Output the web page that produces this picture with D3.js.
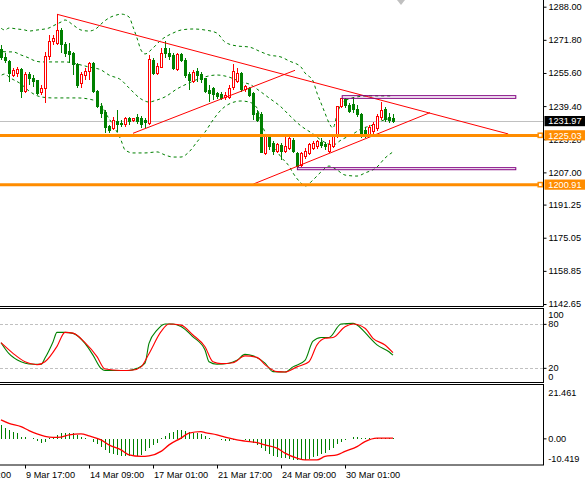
<!DOCTYPE html>
<html>
<head>
<meta charset="utf-8">
<script src="https://cdn.jsdelivr.net/npm/d3@7"></script>
<style>
  html, body { margin: 0; padding: 0; background: #fff; }
  svg { display: block; font-family: "Liberation Sans", Arial, sans-serif; }
</style>
</head>
<body>
<svg id="chart" width="585" height="483"></svg>
<script>
// H4 candles, one per bar: [open, high, low, close]
const candles = [
  [1267.3, 1269.3, 1261.9, 1263.4], [1263.4, 1265.4, 1260.5, 1261.9], [1261.1, 1261.9, 1251.3, 1255.4],
  [1254.6, 1258.0, 1253.6, 1256.6], [1255.4, 1258.7, 1253.8, 1257.1], [1257.1, 1258.0, 1243.4, 1246.4],
  [1246.4, 1256.1, 1245.8, 1254.9], [1254.9, 1256.2, 1249.7, 1252.7], [1253.0, 1254.6, 1248.9, 1251.3],
  [1251.7, 1252.2, 1244.8, 1245.7], [1245.9, 1249.7, 1244.8, 1248.1], [1248.1, 1265.9, 1240.9, 1263.6],
  [1263.6, 1274.2, 1261.9, 1270.9], [1270.9, 1274.2, 1269.3, 1272.6], [1270.1, 1284.3, 1269.3, 1276.6],
  [1276.6, 1277.6, 1265.4, 1269.3], [1269.3, 1270.9, 1263.6, 1265.2], [1266.0, 1270.3, 1260.5, 1264.4],
  [1265.2, 1266.0, 1254.6, 1259.5], [1259.5, 1260.5, 1248.1, 1249.7], [1250.6, 1256.2, 1248.1, 1254.9],
  [1254.6, 1257.9, 1252.2, 1256.2], [1256.2, 1261.1, 1252.2, 1260.3], [1260.3, 1261.1, 1245.7, 1246.4],
  [1246.4, 1247.3, 1238.3, 1239.1], [1239.1, 1240.9, 1233.6, 1235.9], [1236.2, 1237.5, 1226.2, 1229.0],
  [1229.3, 1230.2, 1226.2, 1227.7], [1228.5, 1234.2, 1227.7, 1232.6], [1232.1, 1237.5, 1226.9, 1230.2],
  [1231.0, 1232.6, 1229.2, 1230.2], [1230.2, 1234.2, 1229.3, 1233.4], [1233.4, 1234.2, 1230.2, 1232.1],
  [1232.6, 1233.6, 1231.6, 1233.1], [1233.7, 1235.5, 1230.7, 1232.1], [1233.1, 1234.6, 1228.7, 1230.5],
  [1232.6, 1233.6, 1228.7, 1231.5], [1231.0, 1264.4, 1230.2, 1262.4], [1261.9, 1262.9, 1254.6, 1255.4],
  [1255.4, 1260.5, 1254.6, 1258.7], [1258.2, 1267.8, 1258.0, 1265.2], [1267.7, 1271.2, 1262.9, 1265.2],
  [1265.2, 1267.8, 1261.9, 1263.6], [1264.0, 1265.2, 1257.1, 1257.9], [1257.1, 1265.4, 1256.6, 1264.7],
  [1264.7, 1265.4, 1261.1, 1261.9], [1261.9, 1262.9, 1253.1, 1254.6], [1254.9, 1256.2, 1247.3, 1251.7],
  [1251.3, 1257.1, 1250.6, 1255.9], [1256.2, 1258.0, 1251.3, 1254.6], [1254.9, 1255.9, 1250.6, 1252.2],
  [1252.7, 1253.0, 1245.7, 1246.4], [1246.8, 1249.7, 1241.6, 1245.7], [1247.8, 1248.9, 1242.4, 1245.2],
  [1245.7, 1246.4, 1242.9, 1244.0], [1245.2, 1246.4, 1242.4, 1243.2], [1243.5, 1246.4, 1242.4, 1244.8],
  [1243.5, 1249.7, 1242.9, 1248.1], [1248.3, 1260.0, 1247.3, 1256.1], [1251.3, 1258.0, 1250.6, 1255.4],
  [1255.4, 1256.2, 1246.4, 1247.3], [1247.3, 1249.7, 1246.3, 1248.9], [1248.1, 1248.9, 1243.9, 1244.8],
  [1245.7, 1246.4, 1232.6, 1235.1], [1236.0, 1237.5, 1231.6, 1232.6], [1235.1, 1236.5, 1216.5, 1216.9],
  [1216.3, 1225.3, 1215.5, 1224.4], [1224.8, 1225.3, 1217.9, 1219.6], [1221.2, 1222.3, 1215.5, 1217.1],
  [1217.1, 1221.2, 1216.3, 1220.4], [1220.0, 1221.4, 1213.1, 1217.1], [1217.1, 1224.4, 1216.5, 1219.6],
  [1218.8, 1224.4, 1217.9, 1223.7], [1222.8, 1223.7, 1216.3, 1217.1], [1216.3, 1217.1, 1209.1, 1209.8],
  [1210.3, 1217.1, 1209.6, 1216.3], [1214.7, 1218.8, 1213.5, 1217.1], [1216.3, 1221.2, 1215.5, 1220.4],
  [1218.8, 1222.3, 1217.9, 1221.2], [1219.6, 1222.8, 1218.4, 1222.0], [1221.7, 1223.7, 1218.8, 1220.0],
  [1220.7, 1222.0, 1217.9, 1219.6], [1217.1, 1222.8, 1216.3, 1220.7], [1219.6, 1225.3, 1218.8, 1224.4],
  [1224.4, 1239.6, 1223.7, 1239.1], [1239.1, 1243.5, 1238.3, 1242.9], [1242.4, 1243.2, 1238.3, 1239.9],
  [1239.6, 1240.8, 1235.9, 1237.0], [1240.4, 1244.0, 1236.0, 1237.5], [1237.5, 1239.9, 1234.1, 1235.5],
  [1235.1, 1235.9, 1223.8, 1226.2], [1227.7, 1229.2, 1223.8, 1224.8], [1225.3, 1230.2, 1224.3, 1228.7],
  [1227.2, 1231.6, 1225.8, 1230.2], [1228.5, 1235.5, 1227.2, 1234.1], [1233.6, 1241.4, 1232.6, 1237.2],
  [1237.5, 1239.0, 1231.6, 1232.9], [1233.6, 1236.0, 1231.1, 1232.4], [1233.1, 1235.5, 1231.1, 1231.97]
];

// Bollinger bands: [bar, price]
const bbUpper = [
  [-1, 1279.5], [1, 1276.6], [2, 1277.6], [4, 1277.1], [6, 1276.6], [7, 1276.1], [9, 1276.6], [12, 1277.6],
  [13, 1278.6], [15, 1280.5], [16, 1281.5], [18, 1279.1], [20, 1276.6], [22, 1276.1], [24, 1277.6], [25, 1279.5],
  [27, 1282.5], [29, 1284.0], [30, 1284.4], [32, 1283.0], [33, 1278.1], [34, 1272.7], [35, 1266.8], [36, 1264.9],
  [38, 1267.8], [40, 1271.7], [43, 1275.1], [45, 1276.6], [48, 1277.1], [51, 1276.6], [54, 1275.1], [56, 1270.7],
  [59, 1268.8], [62, 1268.3], [65, 1265.9], [67, 1264.4], [70, 1263.4], [72, 1261.5], [75, 1258.5], [76, 1255.6],
  [78, 1251.7], [79, 1245.8], [80, 1240.9], [81, 1236.0], [82, 1231.2], [83, 1228.7], [84, 1235.1], [85, 1240.4],
  [87, 1242.9], [89, 1243.9], [92, 1244.4], [98, 1244.4]
];
const bbMiddle = [
  [-1, 1266.3], [2, 1265.9], [3, 1265.9], [5, 1264.4], [7, 1262.9], [8, 1261.9], [10, 1261.0], [13, 1261.0],
  [16, 1261.0], [20, 1259.5], [22, 1258.5], [25, 1257.1], [27, 1254.6], [30, 1252.2], [32, 1248.3], [35, 1242.9],
  [37, 1241.4], [39, 1242.4], [41, 1243.9], [44, 1247.8], [47, 1250.7], [50, 1253.1], [54, 1254.6], [57, 1253.6],
  [60, 1251.2], [62, 1250.2], [65, 1246.3], [67, 1243.4], [70, 1239.0], [72, 1235.1], [75, 1229.7], [78, 1225.8],
  [80, 1222.8], [83, 1220.4], [85, 1222.8], [88, 1225.8], [90, 1228.2], [93, 1230.2], [95, 1232.1], [98, 1233.6]
];
const bbLower = [
  [-1, 1252.7], [1, 1255.1], [2, 1253.6], [5, 1250.2], [7, 1246.8], [10, 1243.9], [13, 1243.4], [16, 1243.4],
  [19, 1243.4], [23, 1242.4], [25, 1240.4], [26, 1236.5], [28, 1230.2], [30, 1222.8], [31, 1218.0], [33, 1216.5],
  [36, 1216.5], [39, 1217.0], [41, 1215.5], [43, 1214.5], [45, 1214.5], [47, 1217.0], [49, 1221.9], [51, 1226.7],
  [53, 1232.6], [55, 1237.5], [57, 1240.4], [60, 1241.9], [62, 1241.4], [64, 1238.5], [65, 1231.6], [66, 1226.7],
  [68, 1220.4], [70, 1214.5], [72, 1210.1], [73, 1206.7], [75, 1201.8], [76, 1200.3], [78, 1203.3], [80, 1207.2],
  [82, 1210.1], [84, 1208.2], [86, 1205.7], [89, 1205.2], [91, 1206.7], [94, 1209.6], [96, 1214.0], [98, 1217.0]
];

// Stochastic: [bar, value]
const stochMain = [
  [0, 55], [2, 40], [5, 29], [7, 26], [10, 25.5], [11, 34], [13, 56], [14, 69], [16, 69], [18, 67.7], [21, 54],
  [23, 38], [25, 20], [26, 17], [30, 17], [32, 17], [34, 20], [36, 27], [37, 54], [39, 72], [41, 80.5], [43, 80.5],
  [45, 77], [48, 63], [51, 45], [52, 29], [54, 25.5], [57, 27], [59, 31], [61, 39], [63, 37], [66, 27], [68, 15.5],
  [71, 15], [73, 22], [76, 31], [78, 57], [80, 62], [82, 62], [85, 80.5], [88, 81.4], [89, 79], [92, 63], [94, 52],
  [97, 42.7], [98, 38]
];
const stochSignal = [
  [0, 55], [3, 40.5], [6, 29], [9, 25], [11, 29], [14, 50], [16, 69], [18, 68], [21, 55], [24, 36], [26, 19],
  [30, 17], [33, 17.7], [35, 22], [37, 40], [40, 70], [42, 80.5], [45, 79], [48, 65.5], [51, 49.5], [53, 29],
  [55, 26.5], [58, 27.7], [61, 37], [64, 35], [66, 25], [69, 15.5], [71, 15], [74, 22], [77, 29], [79, 52],
  [81, 61], [83, 62], [86, 76.8], [88, 80.5], [91, 74.6], [93, 61], [96, 51.8], [98, 41.3]
];
const stochLevels = [80, 20];
const stochLabels = [100, 80, 20, 0];

// MACD histogram, one value per bar, and its signal line [bar, value]
const macdHist = [
  5.6, 4.3, 3.6, 2.9, 2.3, 0.9, 0.7, 0.1, 0.3, -0.7, -1.5, -1.1, 0.3, 0.9, 1.6, 2.5, 2.5, 2.5, 2.3, 1.6,
  0.9, 0.5, -0.2, -1.1, -2.0, -3.1, -4.4, -5.5, -6.0, -6.4, -6.8, -7.0, -7.0, -7.0, -6.8, -6.4, -5.0, -3.7, -2.4, -1.5,
  0.3, 1.2, 2.3, 2.9, 3.6, 3.6, 3.2, 2.7, 2.5, 2.3, 2.0, 1.2, 0.5, 0.0, -0.1, -0.4, -0.7, -0.7, -0.4, -0.1,
  -0.1, -0.4, -1.1, -1.7, -2.4, -3.7, -5.0, -6.0, -6.8, -7.3, -7.5, -7.7, -8.1, -8.3, -8.4, -8.4, -8.4, -8.1, -7.3, -6.8,
  -6.0, -5.5, -4.4, -3.5, -2.0, -1.1, -0.4, 0.1, 0.6, 0.9, 0.5, 0.2, 0.3, 0.3, 0.3, 0.3, 0.3, 0.3, 0.3
];
const macdSignal = [
  [0, 7.6], [2, 6.2], [5, 4.9], [7, 3.3], [9, 2.0], [11, 1.0], [13, 0.6], [15, 0.7], [17, 1.6], [20, 2.0],
  [22, 1.2], [25, -0.4], [27, -2.4], [30, -4.4], [32, -6.4], [35, -7.0], [37, -6.8], [40, -5.0], [42, -2.4],
  [45, 0.3], [47, 2.3], [50, 2.9], [51, 2.5], [54, 1.6], [56, 0.7], [59, -0.4], [61, -0.9], [64, -1.5], [66, -2.4],
  [69, -3.7], [71, -5.7], [74, -7.7], [76, -8.4], [79, -8.4], [81, -7.0], [84, -6.4], [86, -5.0], [89, -3.1],
  [91, -1.1], [94, 0.3], [96, 0.3], [98, 0.3]
];
const macdLabels = [21.461, 0, -10.419];

// price axis and time axis
const priceTicks = ['1288.00', '1271.80', '1255.60', '1239.40', '1223.20', '1207.00', '1191.25', '1175.05', '1158.85', '1142.65'];
const timeTickBars = [-10, 6, 22, 38, 54, 70, 86];
const timeLabels = ['7 Mar 01:00', '9 Mar 17:00', '14 Mar 09:00', '17 Mar 01:00', '21 Mar 17:00', '24 Mar 09:00', '30 Mar 01:00'];

// drawn objects
const lastPrice = 1231.97;
const levels = [1225.03, 1200.91];
const trendLines = [
  [14, 1284.3, 126.8, 1225.8],
  [33, 1226.1, 73.5, 1256.9],
  [63.1, 1201.3, 107.25, 1236.2]
];
const boxes = [
  [85.3, 1244.5, 128.7, 1243.2],
  [74.1, 1209.3, 128.7, 1208.3]
];

const GREEN = '#008000', RED = '#ff0000', ORANGE = '#ff8c00', PURPLE = '#800080', SILVER = '#c0c0c0';
const axisX = 543.5;
const fontSize = '9.2px';

const svg = d3.select('#chart');

// scales
const x = d3.scaleLinear().domain([0, 98]).range([1, 393]);
const y = d3.scaleLinear().domain([1142.65, 1288]).range([304, 6.7]);
const yStoch = d3.scaleLinear().domain([0, 100]).range([383, 309.7]);
const yMacd = d3.scaleLinear().domain([-10.419, 21.461]).range([465, 385]);

// clip areas for the three windows
const defs = svg.append('defs');
defs.append('clipPath').attr('id', 'clip-main')
  .append('rect').attr('x', 0).attr('y', 0).attr('width', axisX).attr('height', 306);
defs.append('clipPath').attr('id', 'clip-stoch')
  .append('rect').attr('x', 0).attr('y', 309).attr('width', axisX).attr('height', 73.5);
defs.append('clipPath').attr('id', 'clip-macd')
  .append('rect').attr('x', 0).attr('y', 385).attr('width', axisX).attr('height', 79.5);

const main = svg.append('g').attr('clip-path', 'url(#clip-main)');

// bid line
main.append('line')
  .attr('x1', 0).attr('x2', axisX)
  .attr('y1', Math.round(y(lastPrice)) + 0.5).attr('y2', Math.round(y(lastPrice)) + 0.5)
  .attr('stroke', SILVER).attr('stroke-width', 1);

// bollinger bands
const bandLine = d3.line()
  .x((d) => x(d[0]))
  .y((d) => y(d[1]))
  .curve(d3.curveMonotoneX);

[bbUpper, bbMiddle, bbLower].forEach((band) => {
  main.append('path')
    .attr('d', bandLine(band))
    .attr('fill', 'none')
    .attr('stroke', GREEN)
    .attr('stroke-width', 1)
    .attr('stroke-dasharray', '3,3');
});

// candles
const candleG = main.append('g').attr('shape-rendering', 'crispEdges');
candles.forEach((c, i) => {
  const [o, h, l, cl] = c;
  const up = cl >= o;
  const col = up ? RED : GREEN;
  const cx = x(i);
  candleG.append('line')
    .attr('x1', cx + 0.5).attr('x2', cx + 0.5)
    .attr('y1', y(h)).attr('y2', y(l))
    .attr('stroke', col);
  const top = y(Math.max(o, cl));
  const bot = y(Math.min(o, cl));
  candleG.append('rect')
    .attr('x', cx - 0.5)
    .attr('y', top)
    .attr('width', 2)
    .attr('height', Math.max(bot - top, 0.1))
    .attr('fill', up ? '#fff' : GREEN)
    .attr('stroke', col)
    .attr('stroke-width', 1);
});

// trend lines
trendLines.forEach((t) => {
  main.append('line')
    .attr('x1', x(t[0])).attr('y1', y(t[1]))
    .attr('x2', x(t[2])).attr('y2', y(t[3]))
    .attr('stroke', RED).attr('stroke-width', 1);
});

// rectangles
boxes.forEach((b) => {
  main.append('rect')
    .attr('x', x(b[0])).attr('y', y(b[1]))
    .attr('width', x(b[2]) - x(b[0]))
    .attr('height', y(b[3]) - y(b[1]))
    .attr('fill', 'none')
    .attr('stroke', PURPLE).attr('stroke-width', 1);
});

// horizontal levels
levels.forEach((lv) => {
  main.append('line')
    .attr('x1', 0).attr('x2', 538)
    .attr('y1', y(lv)).attr('y2', y(lv))
    .attr('stroke', ORANGE).attr('stroke-width', 3);
  main.append('rect')
    .attr('x', 538.2).attr('y', y(lv) - 2.3)
    .attr('width', 4.2).attr('height', 4.2)
    .attr('fill', '#fff')
    .attr('stroke', ORANGE).attr('stroke-width', 1.5);
});

// chart shift marker
svg.append('path')
  .attr('d', 'M397,0 L405,0 L401,5 Z')
  .attr('fill', SILVER);

// window frames
svg.append('line')
  .attr('x1', 0).attr('x2', axisX).attr('y1', 306.5).attr('y2', 306.5)
  .attr('stroke', '#000');
svg.append('line')
  .attr('x1', axisX).attr('x2', axisX).attr('y1', 0).attr('y2', 306.5)
  .attr('stroke', '#000');
svg.append('rect')
  .attr('x', -1).attr('y', 308.5).attr('width', axisX + 1).attr('height', 74)
  .attr('fill', 'none').attr('stroke', '#000');
svg.append('rect')
  .attr('x', -1).attr('y', 384.5).attr('width', axisX + 1).attr('height', 80.5)
  .attr('fill', 'none').attr('stroke', '#000');

// price axis
const priceAxis = svg.append('g')
  .attr('transform', `translate(${axisX},0)`)
  .call(d3.axisRight(y)
    .tickValues(priceTicks.map(Number))
    .tickFormat((d, i) => priceTicks[i])
    .tickSize(3)
    .tickPadding(2));
priceAxis.select('.domain').remove();
priceAxis.selectAll('text').attr('font-size', fontSize).attr('font-family', '"Liberation Sans", Arial, sans-serif').attr('fill', '#000');

// price labels with background
function priceTag(value, bg) {
  const py = y(value);
  svg.append('rect')
    .attr('x', 544.5).attr('y', py - 5.3)
    .attr('width', 41).attr('height', 10.2)
    .attr('fill', bg);
  svg.append('text')
    .attr('x', 548.3).attr('y', py)
    .attr('dy', '0.34em')
    .attr('font-size', fontSize)
    .attr('fill', '#fff')
    .text(d3.format('.2f')(value));
}
priceTag(lastPrice, '#000');
levels.forEach((lv) => priceTag(lv, ORANGE));

// stochastic
const stochG = svg.append('g').attr('clip-path', 'url(#clip-stoch)');
stochLevels.forEach((lv) => {
  stochG.append('line')
    .attr('x1', 0).attr('x2', axisX)
    .attr('y1', Math.round(yStoch(lv)) + 0.5).attr('y2', Math.round(yStoch(lv)) + 0.5)
    .attr('stroke', SILVER).attr('stroke-dasharray', '3,2');
});
const stochLine = d3.line()
  .x((d) => x(d[0]))
  .y((d) => yStoch(d[1]))
  .curve(d3.curveMonotoneX);
stochG.append('path').attr('d', stochLine(stochMain))
  .attr('fill', 'none').attr('stroke', GREEN).attr('stroke-width', 1.1);
stochG.append('path').attr('d', stochLine(stochSignal))
  .attr('fill', 'none').attr('stroke', RED).attr('stroke-width', 1.1);

stochLabels.forEach((v) => {
  const ly = Math.min(Math.max(yStoch(v), 315), 377);
  svg.append('text')
    .attr('x', 548.3).attr('y', ly).attr('dy', '0.34em')
    .attr('font-size', fontSize).text(v);
});
stochLevels.forEach((v) => {
  svg.append('line')
    .attr('x1', axisX).attr('x2', axisX + 3)
    .attr('y1', yStoch(v)).attr('y2', yStoch(v))
    .attr('stroke', '#000');
});

// macd
const macdG = svg.append('g').attr('clip-path', 'url(#clip-macd)');
macdG.append('g').attr('shape-rendering', 'crispEdges')
  .selectAll('line')
  .data(macdHist)
  .enter()
  .append('line')
  .attr('x1', (d, i) => x(i) + 0.5)
  .attr('x2', (d, i) => x(i) + 0.5)
  .attr('y1', yMacd(0))
  .attr('y2', (d) => yMacd(d))
  .attr('stroke', GREEN)
  .attr('stroke-width', 1);
const macdLine = d3.line()
  .x((d) => x(d[0]))
  .y((d) => yMacd(d[1]))
  .curve(d3.curveMonotoneX);
macdG.append('path').attr('d', macdLine(macdSignal))
  .attr('fill', 'none').attr('stroke', RED).attr('stroke-width', 1.3);

macdLabels.forEach((v) => {
  const ly = Math.min(Math.max(yMacd(v), 392.5), 458.5);
  svg.append('text')
    .attr('x', 548.3).attr('y', ly).attr('dy', '0.34em')
    .attr('font-size', fontSize)
    .text(v === 0 ? '0.00' : String(v));
});
svg.append('line')
  .attr('x1', axisX).attr('x2', axisX + 3)
  .attr('y1', yMacd(0)).attr('y2', yMacd(0))
  .attr('stroke', '#000');

// time axis
timeTickBars.forEach((b, i) => {
  const tx = Math.round(x(b)) + 0.5;
  svg.append('line')
    .attr('x1', tx).attr('x2', tx)
    .attr('y1', 465).attr('y2', 468.5)
    .attr('stroke', '#000');
  svg.append('text')
    .attr('x', tx + 0.5).attr('y', 477.6)
    .attr('font-size', fontSize)
    .text(timeLabels[i]);
});
</script>
</body>
</html>
